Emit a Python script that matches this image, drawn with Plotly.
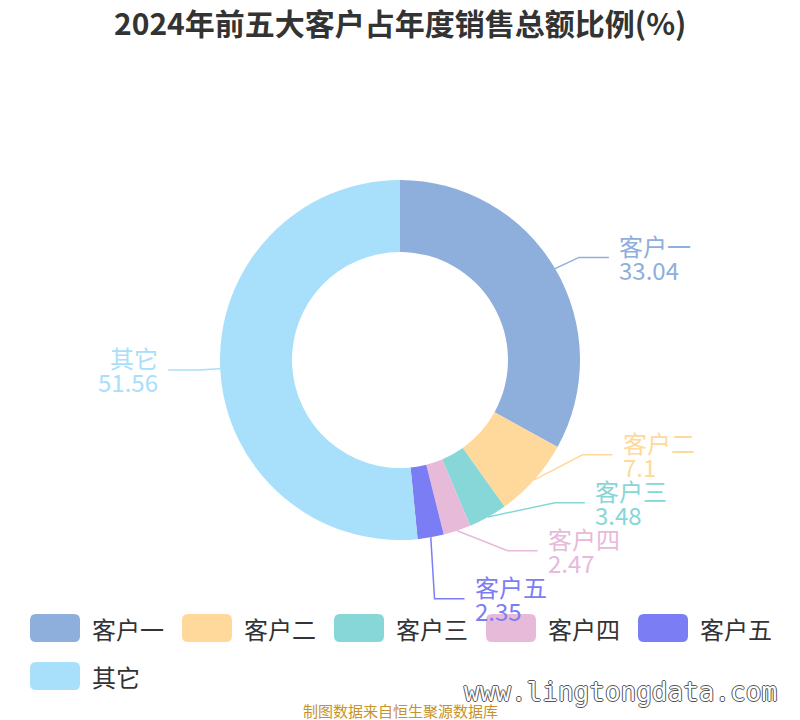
import math
import plotly.graph_objects as go

# 数据
labels = ["客户一", "客户二", "客户三", "客户四", "客户五", "其它"]
values = [33.04, 7.1, 3.48, 2.47, 2.35, 51.56]
colors = ["#8eaedb", "#ffd99b", "#87d6d8", "#e7bad9", "#7b7df5", "#a8dffa"]

title_text = "2024年前五大客户占年度销售总额比例(%)"
source_text = "制图数据来自恒生聚源数据库"
watermark_text = "www.lingtongdata.com"

# 画布/环形参数 (页面像素; 页面 body 有 8px 边距)
W, H = 800, 720
OFF = 8
CX, CY, R = 400, 360, 180
HOLE = 0.6
LEN1, LEN2, GAP = 22, 30, 8
LABEL_H = 48
FONT = "Noto Sans CJK SC"


def shift_up(lst, end, delta):
    for j in range(end, -1, -1):
        if lst[j]["y"] - delta < 0:
            break
        lst[j]["y"] -= delta
        if j > 0 and lst[j]["y"] > lst[j - 1]["y"] + LABEL_H:
            break


def shift_down(lst, start, end, delta):
    for j in range(start, end):
        if lst[j]["y"] + delta > H:
            break
        lst[j]["y"] += delta
        if j > start and j + 1 < end and lst[j + 1]["y"] > lst[j]["y"] + LABEL_H:
            shift_up(lst, j, delta / 2)
            return
    shift_up(lst, end - 1, delta / 2)


def change_x(lst, is_down, d):
    last_dx = float("inf") if is_down else 0
    for it in lst:
        dy = abs(it["y"] - CY)
        if dy < R + LEN1:
            dx = math.sqrt((R + LEN1 + LEN2 + GAP) ** 2 - dy ** 2)
        else:
            dx = abs(it["x"] - CX)
        if is_down and dx >= last_dx:
            dx = last_dx - 10
        if not is_down and dx <= last_dx:
            dx = last_dx + 10
        it["x"] = CX + dx * d
        last_dx = dx


def adjust_side(lst, d):
    n = len(lst)
    last = 0
    for i in range(n):
        delta = lst[i]["y"] - last
        if delta < 0:
            shift_down(lst, i, n, -delta)
        last = lst[i]["y"] + LABEL_H
    if H - last < 0:
        shift_up(lst, n - 1, last - H)
    change_x([it for it in lst if it["y"] < CY], False, d)
    change_x([it for it in lst if it["y"] >= CY], True, d)


def label_layout():
    total = sum(values)
    items = []
    cum = 0
    for i, v in enumerate(values):
        ang = 2 * math.pi * (cum + v / 2) / total
        cum += v
        s, c = math.sin(ang), -math.cos(ang)
        d = 1 if s >= 0 else -1
        ex = CX + (R + LEN1) * s
        ey = CY + (R + LEN1) * c
        items.append(dict(i=i, dir=d, sx=CX + R * s, sy=CY + R * c,
                          x=ex + d * (LEN2 + GAP), y=ey))
    for d in (1, -1):
        side = sorted([it for it in items if it["dir"] == d], key=lambda it: it["y"])
        adjust_side(side, d)
    return items


def rrect(x0, y0, w, h, r):
    return (f"M{x0+r},{y0} H{x0+w-r} Q{x0+w},{y0} {x0+w},{y0+r} V{y0+h-r} "
            f"Q{x0+w},{y0+h} {x0+w-r},{y0+h} H{x0+r} Q{x0},{y0+h} {x0},{y0+h-r} "
            f"V{y0+r} Q{x0},{y0} {x0+r},{y0} Z")


fig = go.Figure()

fx, fy = CX - OFF, CY - OFF
fig.add_trace(go.Pie(
    labels=labels, values=values, hole=HOLE, sort=False,
    direction="clockwise", rotation=0, textinfo="none",
    marker=dict(colors=colors, line=dict(width=0)),
    domain=dict(x=[(fx - R) / W, (fx + R) / W], y=[1 - (fy + R) / H, 1 - (fy - R) / H]),
    showlegend=False, hoverinfo="label+value",
))

annotations = []
shapes = []

# 引导线和标签
for it in label_layout():
    i, d = it["i"], it["dir"]
    end_x = it["x"] - d * GAP
    elbow_x = end_x - d * LEN2
    fig.add_trace(go.Scatter(
        x=[it["sx"], elbow_x, end_x], y=[it["sy"], it["y"], it["y"]],
        mode="lines", line=dict(color=colors[i], width=1.5),
        hoverinfo="skip", showlegend=False,
    ))
    anchor = "left" if d > 0 else "right"
    annotations.append(dict(x=it["x"], y=it["y"] - 12, text=labels[i], showarrow=False,
                            xanchor=anchor, yanchor="middle",
                            font=dict(family=FONT, size=24, color=colors[i])))
    annotations.append(dict(x=it["x"], y=it["y"] + 12, text=f"{values[i]:g}", showarrow=False,
                            xanchor=anchor, yanchor="middle",
                            font=dict(family=FONT, size=24, color=colors[i])))

# 图例
for i, name in enumerate(labels):
    x0 = 30 + (i % 5) * 152
    y0 = 614 + (i // 5) * 48
    shapes.append(dict(type="path", path=rrect(x0, y0, 50, 28, 6), xref="x", yref="y",
                       fillcolor=colors[i], line=dict(width=0)))
    annotations.append(dict(x=x0 + 60, y=y0 + 14, text=name, showarrow=False,
                            xanchor="left", yanchor="middle",
                            font=dict(family=FONT, size=24, color="#333333")))

# 标题、水印、来源
annotations.append(dict(x=W / 2, y=22, text=title_text, showarrow=False,
                        xanchor="center", yanchor="middle",
                        font=dict(family=FONT, size=30, color="#333333", weight="bold")))
annotations.append(dict(x=620, y=692, text=watermark_text, showarrow=False,
                        xanchor="center", yanchor="middle",
                        font=dict(family="DejaVu Sans Mono", size=26, color="#ffffff",
                                  shadow="-1px 0 #555, 1px 0 #555, 0 -1px #555, 0 1px #555")))
annotations.append(dict(x=W / 2, y=710, text=source_text, showarrow=False,
                        xanchor="center", yanchor="middle",
                        font=dict(family=FONT, size=15, color="#c8922b")))

fig.update_layout(
    width=W, height=H,
    margin=dict(l=0, r=0, t=0, b=0),
    paper_bgcolor="white", plot_bgcolor="white",
    xaxis=dict(range=[OFF, W + OFF], visible=False, fixedrange=True),
    yaxis=dict(range=[H + OFF, OFF], visible=False, fixedrange=True),
    annotations=annotations, shapes=shapes,
    showlegend=False,
)

fig.write_html("out.html")
